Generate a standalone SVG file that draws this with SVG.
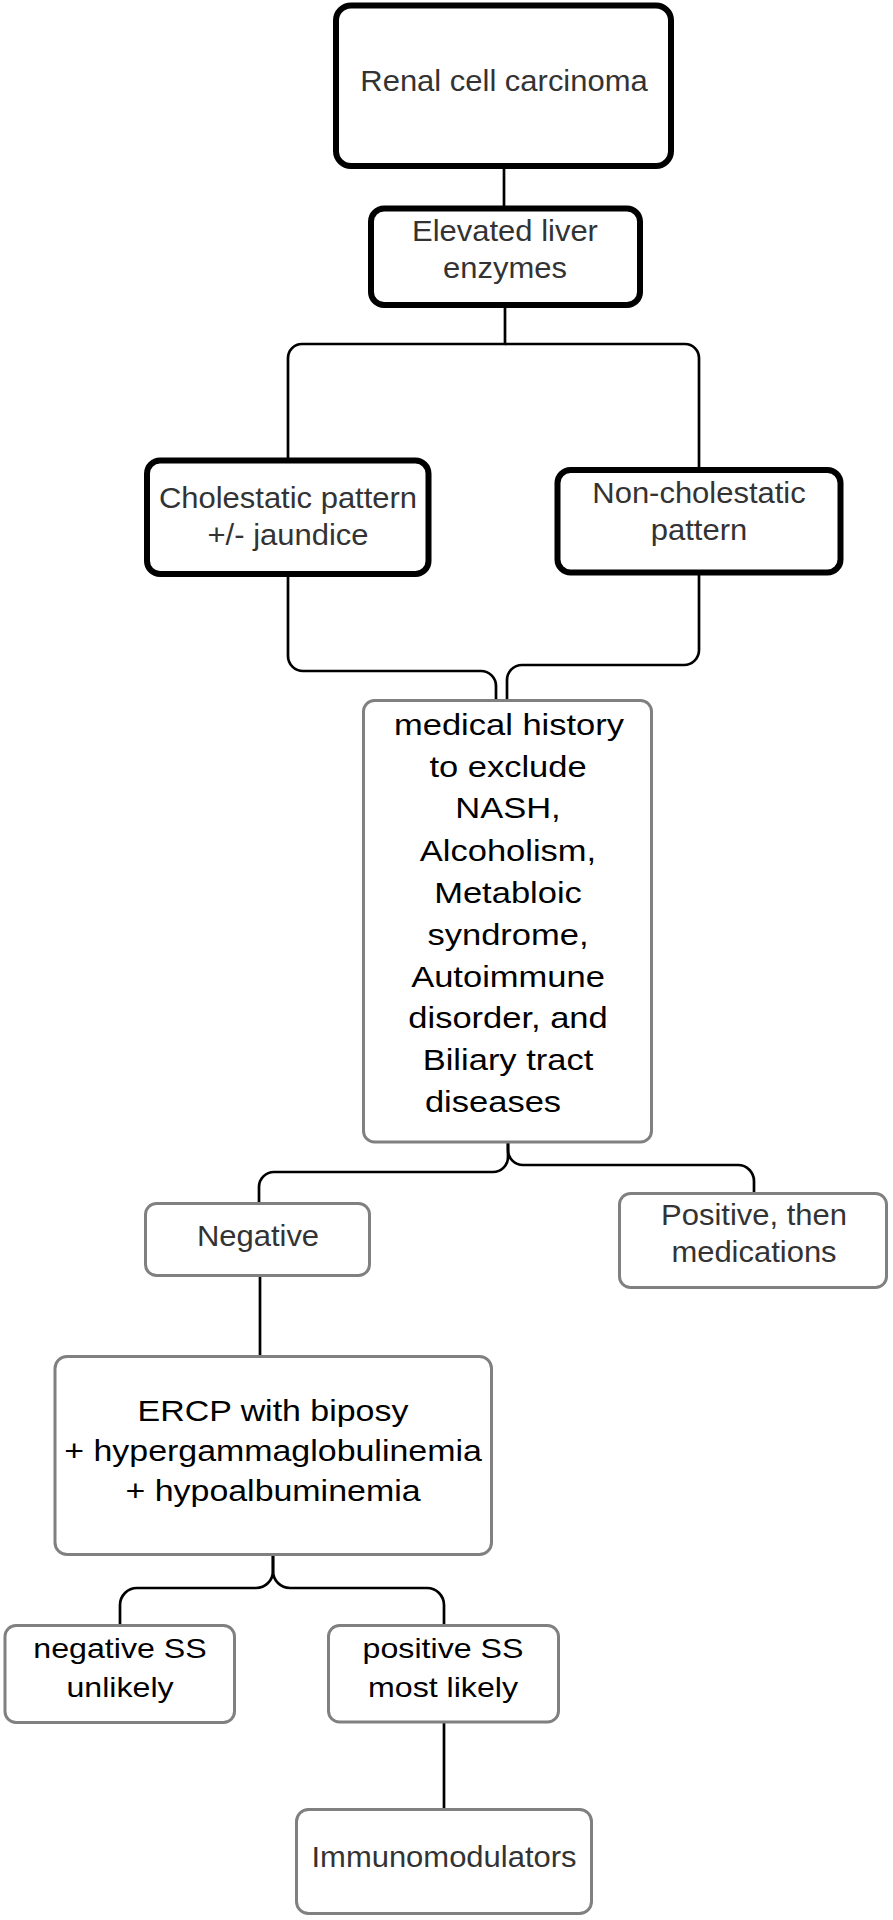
<svg xmlns="http://www.w3.org/2000/svg" width="893" height="1920" viewBox="0 0 893 1920">
<style>
.thick{fill:#fff;stroke:#000;stroke-width:6}
.thin{fill:#fff;stroke:#808080;stroke-width:3}
.g{font-family:"Liberation Sans",Arial,sans-serif;font-size:29.5px;fill:#333;text-anchor:middle}
.b{font-family:"Liberation Sans",Arial,sans-serif;font-size:29px;fill:#000;text-anchor:middle}
.s{font-family:"Liberation Sans",Arial,sans-serif;font-size:27.5px;fill:#000;text-anchor:middle}
.c{fill:none;stroke:#000;stroke-width:2.7}
</style>
<rect width="893" height="1920" fill="#fff"/>
<g id="connectors">
<path class="c" d="M504,166 V209"/>
<path class="c" d="M505,305 V344 H302 A14,14 0 0 0 288,358 V461"/>
<path class="c" d="M505,344 H685 A14,14 0 0 1 699,358 V470"/>
<path class="c" d="M288,574 V656 A15,15 0 0 0 303,671 H481 A15,15 0 0 1 496,686 V700"/>
<path class="c" d="M699,572 V650 A15,15 0 0 1 684,665 H522 A15,15 0 0 0 507,680 V700"/>
<path class="c" d="M508,1142 V1157 A15,15 0 0 1 493,1172 H274 A15,15 0 0 0 259,1187 V1203"/>
<path class="c" d="M508,1142 V1150 A15,15 0 0 0 523,1165 H738 A16,16 0 0 1 754,1181 V1193"/>
<path class="c" d="M260,1277 V1356"/>
<path class="c" d="M273,1555 V1571 A17,17 0 0 1 256,1588 H137 A17,17 0 0 0 120,1605 V1625"/>
<path class="c" d="M273,1555 V1571 A17,17 0 0 0 290,1588 H427 A17,17 0 0 1 444,1605 V1625"/>
<path class="c" d="M444,1722 V1809"/>
</g>
<g id="renal">
<rect class="thick" x="336" y="5.5" width="335" height="160.5" rx="15"/>
<text class="g" transform="translate(504 91) scale(1.05 1)">Renal cell carcinoma</text>
</g>
<g id="elevated">
<rect class="thick" x="371" y="208.5" width="269" height="96.5" rx="13"/>
<text class="g" transform="translate(505 241) scale(1.05 1)">Elevated liver</text>
<text class="g" transform="translate(505 278) scale(1.05 1)">enzymes</text>
</g>
<g id="cholestatic">
<rect class="thick" x="147" y="460.5" width="281.5" height="113.5" rx="13"/>
<text class="g" transform="translate(288 508) scale(1.05 1)">Cholestatic pattern</text>
<text class="g" transform="translate(288 545) scale(1.05 1)">+/- jaundice</text>
</g>
<g id="noncholestatic">
<rect class="thick" x="557.5" y="470" width="283" height="102.5" rx="13"/>
<text class="g" transform="translate(699 503) scale(1.05 1)">Non-cholestatic</text>
<text class="g" transform="translate(699 540) scale(1.05 1)">pattern</text>
</g>
<g id="history">
<rect class="thin" x="363.5" y="700.5" width="288" height="441.5" rx="11"/>
<text class="b" transform="translate(509 735) scale(1.19 1)">medical history</text>
<text class="b" transform="translate(508 777) scale(1.19 1)">to exclude</text>
<text class="b" transform="translate(508 818) scale(1.19 1)">NASH,</text>
<text class="b" transform="translate(508 861) scale(1.19 1)">Alcoholism,</text>
<text class="b" transform="translate(508 903) scale(1.19 1)">Metabloic</text>
<text class="b" transform="translate(508 945) scale(1.19 1)">syndrome,</text>
<text class="b" transform="translate(508 987) scale(1.19 1)">Autoimmune</text>
<text class="b" transform="translate(508 1028) scale(1.19 1)">disorder, and</text>
<text class="b" transform="translate(508 1070) scale(1.19 1)">Biliary tract</text>
<text class="b" transform="translate(493 1112) scale(1.19 1)">diseases</text>
</g>
<g id="negative">
<rect class="thin" x="145.5" y="1203.5" width="224" height="72" rx="11"/>
<text class="g" transform="translate(258 1246) scale(1.05 1)">Negative</text>
</g>
<g id="positive">
<rect class="thin" x="619.5" y="1193.5" width="267" height="94" rx="11"/>
<text class="g" transform="translate(754 1225) scale(1.05 1)">Positive, then</text>
<text class="g" transform="translate(754 1262) scale(1.05 1)">medications</text>
</g>
<g id="ercp">
<rect class="thin" x="55" y="1356.5" width="436.5" height="198" rx="12"/>
<text class="b" transform="translate(273 1421) scale(1.17 1)">ERCP with biposy</text>
<text class="b" transform="translate(273 1461) scale(1.17 1)">+ hypergammaglobulinemia</text>
<text class="b" transform="translate(273 1501) scale(1.17 1)">+ hypoalbuminemia</text>
</g>
<g id="negss">
<rect class="thin" x="5" y="1625.5" width="229.5" height="97" rx="11"/>
<text class="s" transform="translate(120 1658) scale(1.17 1)">negative SS</text>
<text class="s" transform="translate(120 1697) scale(1.17 1)">unlikely</text>
</g>
<g id="posss">
<rect class="thin" x="328.5" y="1625.5" width="230" height="96.5" rx="11"/>
<text class="s" transform="translate(443 1658) scale(1.17 1)">positive SS</text>
<text class="s" transform="translate(443 1697) scale(1.17 1)">most likely</text>
</g>
<g id="immuno">
<rect class="thin" x="296.5" y="1809.5" width="295" height="104" rx="12"/>
<text class="g" transform="translate(444 1867) scale(1.05 1)">Immunomodulators</text>
</g>
</svg>
